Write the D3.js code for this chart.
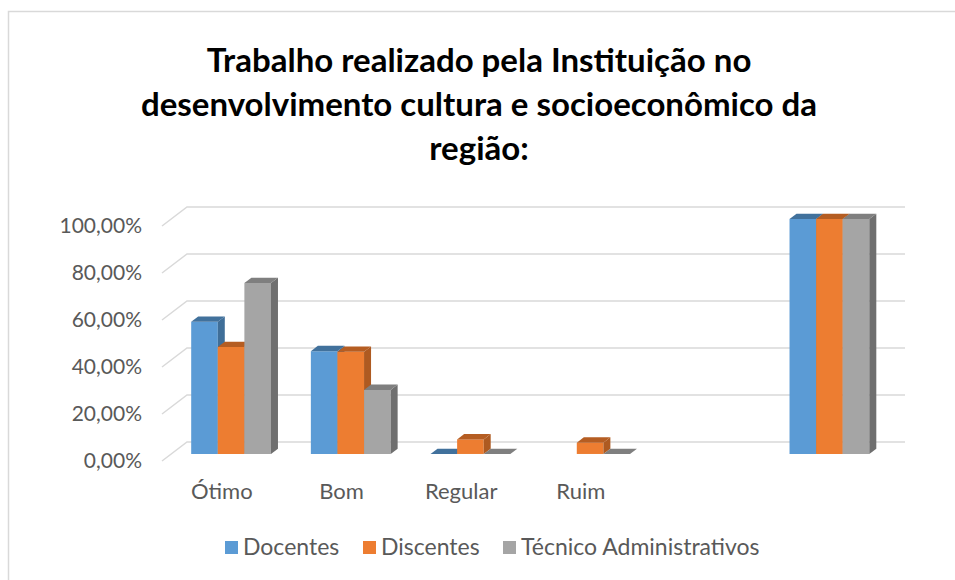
<!DOCTYPE html>
<html>
<head>
<meta charset="utf-8">
<script src="https://cdn.jsdelivr.net/npm/d3@7"></script>
<style>
  body { margin: 0; background: white; }
  text { font-family: Lato, "Open Sans", sans-serif; }
</style>
</head>
<body>
<div id="chart"></div>
<script>
const categories = ['Ótimo', 'Bom', 'Regular', 'Ruim', '', ' ']
const seriesNames = ['Docentes', 'Discentes', 'Técnico Administrativos']
const docentes = [0.5625, 0.4375, 0, null, null, 1]
const discentes = [0.455, 0.435, 0.062, 0.048, null, 1]
const tecnicos = [0.7273, 0.2727, 0, 0, null, 1]
const yTicks = [0, 0.2, 0.4, 0.6, 0.8, 1]
const titleLines = ['Trabalho realizado pela Instituição no', 'desenvolvimento cultura e socioeconômico da', 'região:']

const colors = ['#5b9bd5', '#ed7d31', '#a5a5a5']
const topColors = ['#41719c', '#b55d22', '#7f7f7f']
const sideColors = ['#3f6e98', '#ae5a21', '#6f6f6f']

const width = 955, height = 580
// oblique depth of the floor
const DX = 25, DY = -19
const z0 = 0.37, z1 = 0.65

const svg = d3.select('#chart').append('svg')
  .attr('width', width)
  .attr('height', height)
  .style('background', 'white')

svg.append('rect')
  .attr('x', 8.5).attr('y', 11.5)
  .attr('width', 1000).attr('height', 1000)
  .attr('fill', 'none')
  .attr('stroke', '#d9d9d9')
  .attr('stroke-width', 1.5)

// title
svg.append('text')
  .attr('text-anchor', 'middle')
  .attr('font-weight', 'bold')
  .attr('font-size', 33)
  .attr('fill', '#000')
  .selectAll('tspan')
  .data(titleLines)
  .enter()
  .append('tspan')
  .attr('x', 479)
  .attr('y', (d, i) => 72 + i * 44)
  .text(d => d)

const x0 = d3.scaleBand()
  .domain(categories)
  .range([162, 880])

const x1 = d3.scaleBand()
  .domain(seriesNames)
  .range([x0.bandwidth() / 6, x0.bandwidth() * 5 / 6])

const y = d3.scaleLinear()
  .domain([0, 1])
  .range([461, 226])

const fmt = d3.formatLocale({ decimal: ',', thousands: '.', grouping: [3], currency: ['R$', ''] }).format('.2%')

// gridlines: side diagonal + back wall
svg.append('g')
  .selectAll('path')
  .data(yTicks)
  .enter()
  .append('path')
  .attr('d', d => `M${x0.range()[0]},${y(d)} L${x0.range()[0] + DX},${y(d) + DY} L${x0.range()[1] + DX},${y(d) + DY}`)
  .attr('fill', 'none')
  .attr('stroke', '#d9d9d9')
  .attr('stroke-width', 1.5)

// y axis labels
const yAxis = d3.axisLeft(y)
  .tickValues(yTicks)
  .tickFormat(fmt)
  .tickSize(0)
  .tickPadding(0)

const gy = svg.append('g')
  .attr('transform', 'translate(142,0)')
  .call(yAxis)
gy.select('.domain').remove()
gy.selectAll('text')
  .attr('font-size', 21)
  .attr('fill', '#595959')
  .style('font-family', 'Lato, "Open Sans", sans-serif')

// bars
const seriesData = [docentes, discentes, tecnicos]
const bars = []
categories.forEach((c, ci) => {
  seriesNames.forEach((s, si) => {
    const v = seriesData[si][ci]
    if (v === null) return
    bars.push({ cat: c, series: s, si: si, value: v })
  })
})

function pt (px, py, z) {
  return [px + DX * z, py + DY * z]
}

const barG = svg.append('g')
  .selectAll('g')
  .data(bars)
  .enter()
  .append('g')

barG.each(function (d) {
  const g = d3.select(this)
  const xl = x0(d.cat) + x1(d.series)
  const xr = xl + x1.bandwidth()
  const yb = y(0)
  const yt = y(d.value)
  const line = d3.line()
  // front face
  if (d.value > 0) {
    g.append('path')
      .attr('d', line([pt(xl, yb, z0), pt(xr, yb, z0), pt(xr, yt, z0), pt(xl, yt, z0)]) + 'Z')
      .attr('fill', colors[d.si])
    // side face, only visible where neighbours don't cover it
    g.append('path')
      .attr('d', line([pt(xr, yb, z0), pt(xr, yb, z1), pt(xr, yt, z1), pt(xr, yt, z0)]) + 'Z')
      .attr('fill', sideColors[d.si])
  }
  // top face
  g.append('path')
    .attr('d', line([pt(xl, yt, z0), pt(xr, yt, z0), pt(xr, yt, z1), pt(xl, yt, z1)]) + 'Z')
    .attr('fill', topColors[d.si])
})

// category labels
svg.append('g')
  .selectAll('text')
  .data(categories)
  .enter()
  .append('text')
  .attr('x', d => x0(d) + x0.bandwidth() / 2)
  .attr('y', 499)
  .attr('text-anchor', 'middle')
  .attr('font-size', 22)
  .attr('fill', '#595959')
  .text(d => d.trim())

// legend
const legendX = [225, 363, 503]
const legend = svg.append('g')
  .selectAll('g')
  .data(seriesNames)
  .enter()
  .append('g')
  .attr('transform', (d, i) => `translate(${legendX[i]},541)`)

legend.append('rect')
  .attr('width', 13)
  .attr('height', 13)
  .attr('fill', (d, i) => colors[i])

legend.append('text')
  .attr('x', 18)
  .attr('y', 14)
  .attr('font-size', 23)
  .attr('fill', '#595959')
  .text(d => d)
</script>
</body>
</html>
